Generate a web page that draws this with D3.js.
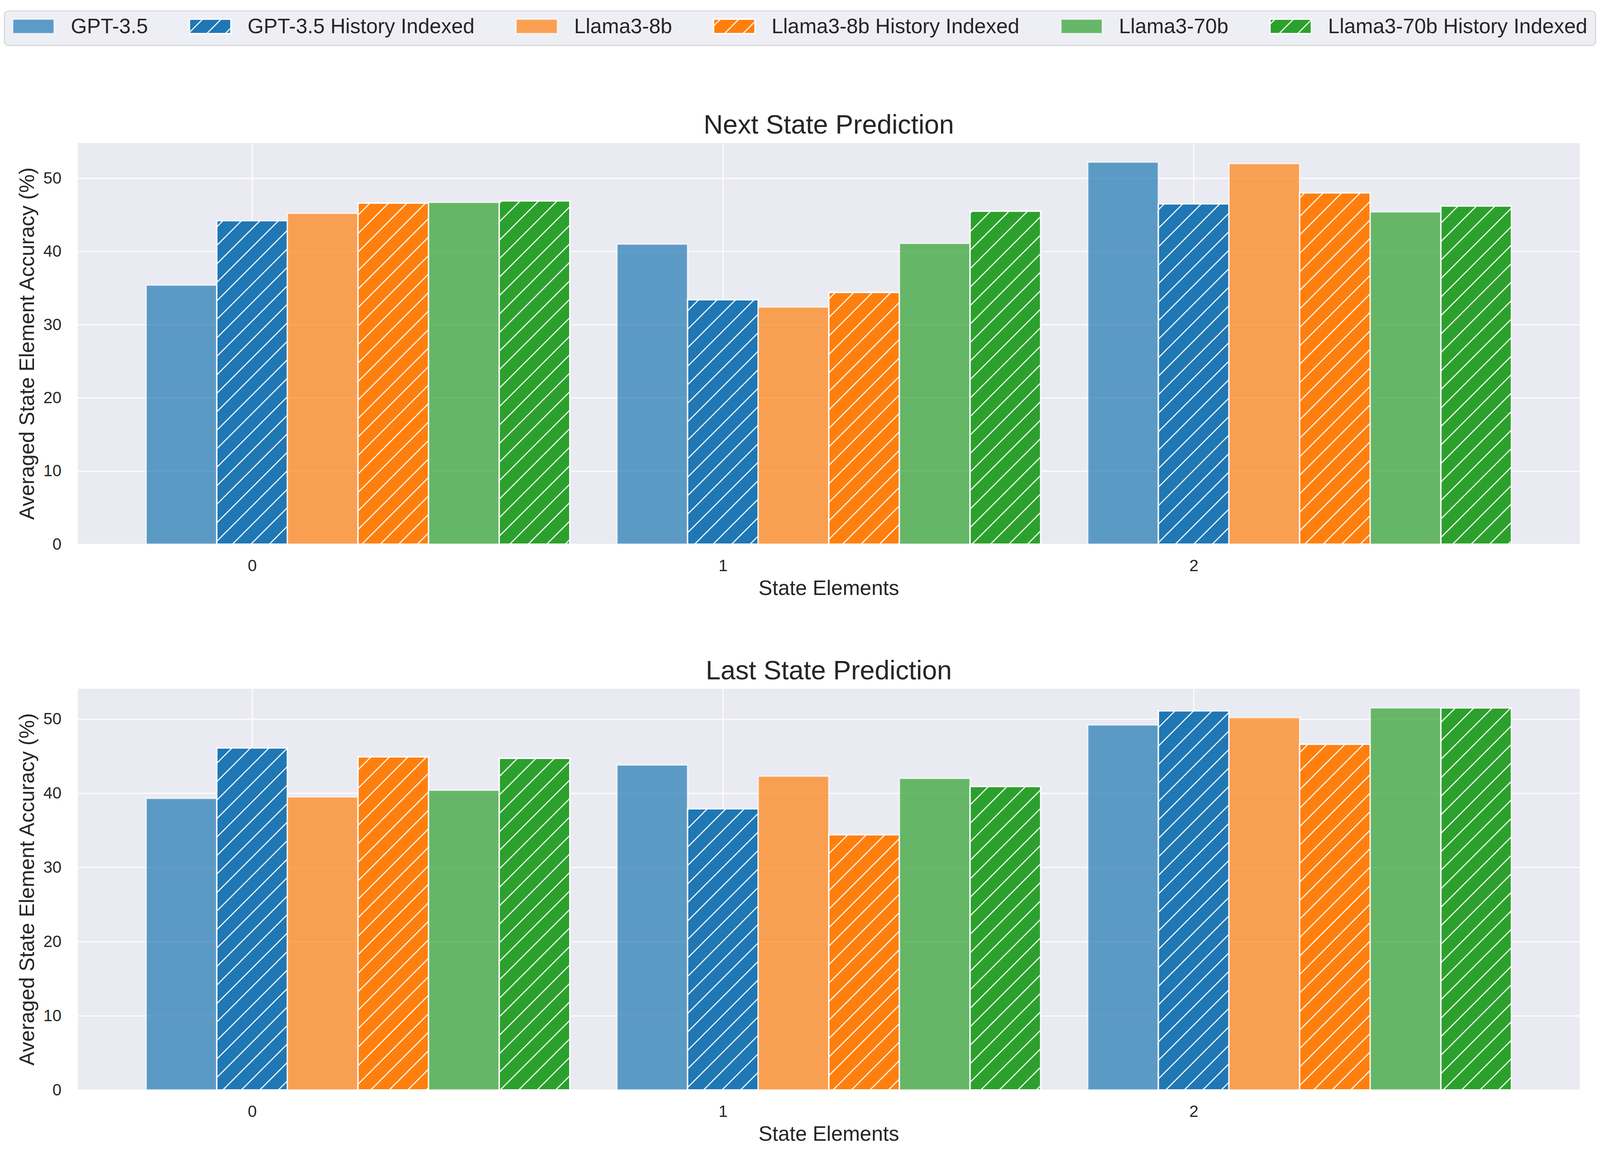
<!DOCTYPE html>
<html>
<head>
<meta charset="utf-8">
<script src="https://cdn.jsdelivr.net/npm/d3@7"></script>
<style>
  html, body { margin: 0; padding: 0; background: #fff; overflow: hidden; }
  #chart svg { display: block; width: 100vw; height: 100vh; }
  text { font-family: 'Liberation Sans', Arial, sans-serif; fill: #262626; }
</style>
</head>
<body>
<div id="chart"></div>
<script>
// state elements on the x axis
const categories = [0, 1, 2]
const yTicks = [0, 10, 20, 30, 40, 50]

const seriesNames = [
  'GPT-3.5', 'GPT-3.5 History Indexed',
  'Llama3-8b', 'Llama3-8b History Indexed',
  'Llama3-70b', 'Llama3-70b History Indexed'
]

// Next State Prediction
const nextGpt = [35.4, 41.0, 52.2]
const nextGptHist = [44.2, 33.4, 46.5]
const nextL8 = [45.2, 32.4, 52.0]
const nextL8Hist = [46.6, 34.4, 48.0]
const nextL70 = [46.7, 41.1, 45.4]
const nextL70Hist = [46.9, 45.5, 46.2]

// Last State Prediction
const lastGpt = [39.3, 43.8, 49.2]
const lastGptHist = [46.1, 37.9, 51.1]
const lastL8 = [39.5, 42.3, 50.2]
const lastL8Hist = [44.9, 34.4, 46.6]
const lastL70 = [40.4, 42.0, 51.5]
const lastL70Hist = [44.7, 40.9, 51.5]

const nextState = [nextGpt, nextGptHist, nextL8, nextL8Hist, nextL70, nextL70Hist]
const lastState = [lastGpt, lastGptHist, lastL8, lastL8Hist, lastL70, lastL70Hist]

// styling
const colors = ['#1f77b4', '#1f77b4', '#ff7f0e', '#ff7f0e', '#2ca02c', '#2ca02c']
const hatched = [false, true, false, true, false, true]

// figure is laid out for 4500x3000; vertical anchors stretch to the window shape
const width = 4500,
  height = width * window.innerHeight / window.innerWidth,
  ky = height / 3000,
  plotLeft = 219,
  plotRight = 4443,
  barWidth = 0.15,
  tickFont = 45.8,
  labelFont = 58.33,
  titleFont = 75

const panels = [
  { title: 'Next State Prediction', values: nextState, top: 366 * ky, bottom: 1393 * ky },
  { title: 'Last State Prediction', values: lastState, top: 1763 * ky, bottom: 2790 * ky }
]

const svg = d3.select('#chart')
  .append('svg')
    .attr('preserveAspectRatio', 'xMidYMin meet')
    .attr('viewBox', [0, 0, width, height].join(' '))

svg.append('rect')
  .attr('width', width)
  .attr('height', height)
  .attr('fill', '#fff')

// hatch patterns "//"
const defs = svg.append('defs')
colors.forEach((c, i) => {
  const p = defs.append('pattern')
    .attr('id', 'hatch-' + i)
    .attr('patternUnits', 'userSpaceOnUse')
    .attr('width', 52)
    .attr('height', 52)
  p.append('rect')
    .attr('width', 52)
    .attr('height', 52)
    .attr('fill', c)
  p.append('path')
    .attr('d', 'M0,52 L52,0 M-13,13 L13,-13 M39,65 L65,39')
    .attr('stroke', '#fff')
    .attr('stroke-width', 3)
})

// matplotlib-like x limits: bar extent plus 5% margin
const xLo = categories[0] - 1.5 * barWidth,
  xHi = categories[categories.length - 1] + 4.5 * barWidth,
  xPad = (xHi - xLo) * 0.05

function styleBar(sel, s) {
  if (hatched[s]) {
    sel.attr('fill', 'url(#hatch-' + s + ')')
      .attr('stroke', '#fff')
      .attr('stroke-width', 4)
  } else {
    sel.attr('fill', colors[s])
      .attr('fill-opacity', 0.7)
      .attr('stroke', '#fff')
      .attr('stroke-opacity', 0.7)
      .attr('stroke-width', 4)
  }
}

function drawPanel(panel) {
  const g = svg.append('g')

  const x = d3.scaleLinear()
    .domain([xLo - xPad, xHi + xPad])
    .range([plotLeft, plotRight])

  const yMax = d3.max(panel.values.flat()) * 1.05
  const y = d3.scaleLinear()
    .domain([0, yMax])
    .range([panel.bottom, panel.top])

  g.append('rect')
    .attr('x', plotLeft)
    .attr('y', panel.top)
    .attr('width', plotRight - plotLeft)
    .attr('height', panel.bottom - panel.top)
    .attr('fill', '#eaeaf2')

  // y grid + tick labels
  const yAxis = g.append('g')
    .attr('transform', 'translate(' + plotLeft + ',0)')
    .call(d3.axisLeft(y).tickValues(yTicks).tickSize(-(plotRight - plotLeft)).tickPadding(46))
  // x grid + tick labels
  const xAxis = g.append('g')
    .attr('transform', 'translate(0,' + panel.bottom + ')')
    .call(d3.axisBottom(x).tickValues(categories).tickFormat(d3.format('d'))
      .tickSize(-(panel.bottom - panel.top)).tickPadding(43.5))

  ;[yAxis, xAxis].forEach(ax => {
    ax.select('.domain').remove()
    ax.attr('font-family', null).attr('font-size', null)
    ax.selectAll('line').attr('stroke', '#fff').attr('stroke-width', 3)
    ax.selectAll('text').attr('fill', '#262626').style('font-size', tickFont + 'px')
  })

  // bars
  seriesNames.forEach((name, s) => {
    g.append('g').selectAll('rect')
      .data(panel.values[s])
      .join('rect')
        .attr('x', (d, i) => x(categories[i] + (s - 1.5) * barWidth))
        .attr('width', x(barWidth) - x(0))
        .attr('y', d => y(d))
        .attr('height', d => y(0) - y(d))
        .call(styleBar, s)
  })

  // title
  g.append('text')
    .attr('x', (plotLeft + plotRight) / 2)
    .attr('y', panel.top - 26)
    .attr('text-anchor', 'middle')
    .style('font-size', titleFont + 'px')
    .text(panel.title)

  // x label
  g.append('text')
    .attr('x', (plotLeft + plotRight) / 2)
    .attr('y', panel.bottom + 143)
    .attr('text-anchor', 'middle')
    .style('font-size', labelFont + 'px')
    .text('State Elements')

  // y label
  g.append('text')
    .attr('transform', 'translate(96,' + (panel.top + panel.bottom) / 2 + ') rotate(-90)')
    .attr('text-anchor', 'middle')
    .style('font-size', labelFont + 'px')
    .text('Averaged State Element Accuracy (%)')
}

panels.forEach(drawPanel)

// legend across the top
const fs = labelFont,
  handleLen = 2 * fs,
  handleH = 0.7 * fs,
  textPad = 0.8 * fs,
  colSpace = 2 * fs,
  borderPad = 0.4 * fs,
  legTop = 28 * ky,
  legH = 97

const legend = svg.append('g')
const frame = legend.append('rect')
const items = legend.selectAll('g.item')
  .data(seriesNames)
  .join('g')
    .attr('class', 'item')

items.append('text')
  .style('font-size', fs + 'px')
  .attr('y', legTop + 63)
  .text(d => d)

const textW = []
items.selectAll('text').each(function () { textW.push(this.getComputedTextLength()) })
const totalW = d3.sum(textW) + seriesNames.length * (handleLen + textPad) +
  (seriesNames.length - 1) * colSpace + 2 * borderPad
const legLeft = width / 2 - totalW / 2

let cursor = legLeft + borderPad
items.each(function (d, s) {
  const item = d3.select(this)
  item.insert('rect', 'text')
    .attr('x', cursor)
    .attr('y', legTop + 23)
    .attr('width', handleLen)
    .attr('height', handleH)
    .call(styleBar, s)
  item.select('text').attr('x', cursor + handleLen + textPad)
  cursor += handleLen + textPad + textW[s] + colSpace
})

frame
  .attr('x', legLeft)
  .attr('y', legTop)
  .attr('width', totalW)
  .attr('height', legH)
  .attr('rx', 12)
  .attr('fill', '#eeeef5')
  .attr('stroke', '#d6d6d6')
  .attr('stroke-width', 3)
</script>
</body>
</html>
